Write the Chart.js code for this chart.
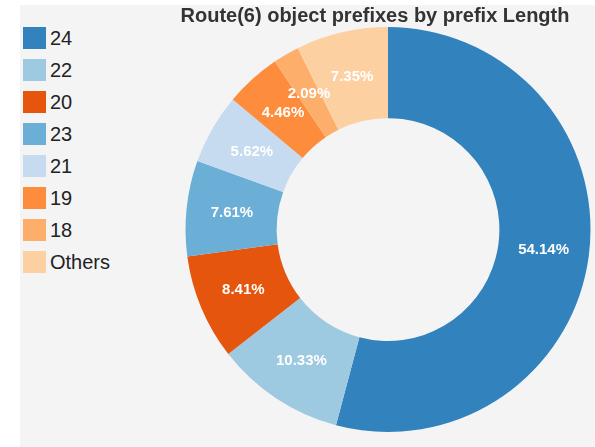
<!DOCTYPE html>
<html>
<head>
<meta charset="utf-8">
<script src="https://cdn.jsdelivr.net/npm/chart.js@4/dist/chart.umd.min.js"></script>
<style>
  html, body { margin: 0; padding: 0; background: #fff; }
  body { width: 595px; height: 447px; position: relative; overflow: hidden; font-family: "Liberation Sans", Arial, sans-serif; }
  #panel { position: absolute; left: 20px; top: 5px; right: 0; bottom: 0; background: #f4f4f4; }
  #wrap { position: absolute; left: 155px; top: 0; width: 440px; height: 447px; }
  #title { position: absolute; left: 155px; width: 440px; top: 3px; text-align: center; font-weight: bold; font-size: 20px; line-height: 24px; color: #333; white-space: nowrap; }
  #legend { position: absolute; left: 23px; top: 27px; }
  .item { height: 32px; display: flex; align-items: flex-start; }
  .sw { width: 23px; height: 22px; margin-right: 4px; }
  .lbl { font-size: 20px; line-height: 22px; color: #222; }
</style>
</head>
<body>
<div id="panel"></div>
<div id="legend"></div>
<div id="wrap"><canvas id="chart" width="440" height="447"></canvas></div>
<div id="title">Route(6) object prefixes by prefix Length</div>
<script>
  const labels = ["24", "22", "20", "23", "21", "19", "18", "Others"];
  const shares = [54.14, 10.33, 8.41, 7.61, 5.62, 4.46, 2.09, 7.35];
  const colors = ["#3182bd", "#9ecae1", "#e6550d", "#6baed6", "#c6dbef", "#fd8d3c", "#fdae6b", "#fdd0a2"];

  // legend on the left
  const legendEl = document.getElementById("legend");
  labels.forEach((l, i) => {
    const row = document.createElement("div");
    row.className = "item";
    row.innerHTML = `<div class="sw" style="background:${colors[i]}"></div><div class="lbl">${l}</div>`;
    legendEl.appendChild(row);
  });

  // percentage labels in the middle of each slice
  const sliceLabels = {
    id: "sliceLabels",
    afterDatasetsDraw(chart) {
      const ctx = chart.ctx;
      const meta = chart.getDatasetMeta(0);
      ctx.save();
      ctx.fillStyle = "#fff";
      ctx.font = "bold 15px 'Liberation Sans', Arial, sans-serif";
      ctx.textAlign = "center";
      ctx.textBaseline = "middle";
      meta.data.forEach((arc, i) => {
        const p = arc.tooltipPosition();
        ctx.fillText(shares[i].toFixed(2) + "%", p.x, p.y);
      });
      ctx.restore();
    },
  };

  new Chart(document.getElementById("chart").getContext("2d"), {
    type: "doughnut",
    data: {
      labels,
      datasets: [{ data: shares, backgroundColor: colors, borderWidth: 0 }],
    },
    options: {
      responsive: false,
      animation: false,
      cutout: "55%",
      // title is drawn as html, so leave room for it on top
      layout: { padding: { left: 28, right: 2, top: 27, bottom: 15 } },
      plugins: {
        legend: { display: false },
        tooltip: { enabled: false },
      },
    },
    plugins: [sliceLabels],
  });
</script>
</body>
</html>
